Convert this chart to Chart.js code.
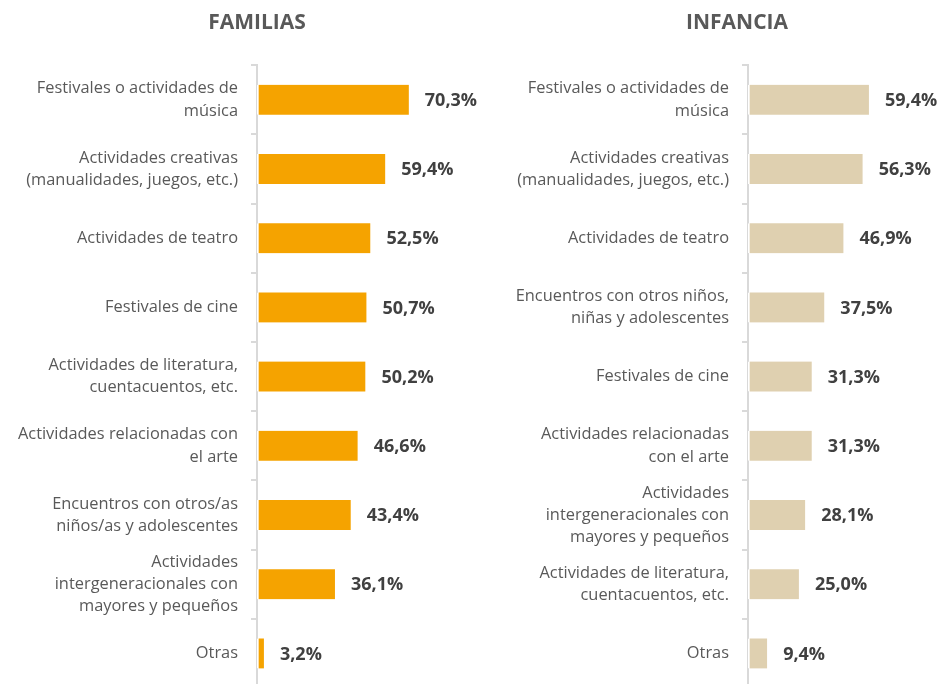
<!DOCTYPE html>
<html>
<head>
<meta charset="utf-8">
<script src="https://cdn.jsdelivr.net/npm/chart.js@4/dist/chart.umd.min.js"></script>
<style>
    html, body { margin: 0; padding: 0; overflow: hidden; background: #fff; }
    #wrap { position: relative; width: 940px; height: 684px; overflow: hidden; }
    .panel { position: absolute; top: 0; height: 688px; }
</style>
</head>
<body>
<div id="wrap">
    <div class="panel" style="left:0;width:514px"><canvas id="familias" width="514" height="688"></canvas></div>
    <div class="panel" style="left:500px;width:474px"><canvas id="infancia" width="474" height="688"></canvas></div>
</div>
<script>
// ── Data ───────────────────────────────────────────────────────────────────

const familiasLabels = [
    ['Festivales o actividades de', 'música'],
    ['Actividades creativas', '(manualidades, juegos, etc.)'],
    'Actividades de teatro',
    'Festivales de cine',
    ['Actividades de literatura,', 'cuentacuentos, etc.'],
    ['Actividades relacionadas con', 'el arte'],
    ['Encuentros con otros/as', 'niños/as y adolescentes'],
    ['Actividades', 'intergeneracionales con', 'mayores y pequeños'],
    'Otras',
];
const familiasValues = [70.3, 59.4, 52.5, 50.7, 50.2, 46.6, 43.4, 36.1, 3.2];

const infanciaLabels = [
    ['Festivales o actividades de', 'música'],
    ['Actividades creativas', '(manualidades, juegos, etc.)'],
    'Actividades de teatro',
    ['Encuentros con otros niños,', 'niñas y adolescentes'],
    'Festivales de cine',
    ['Actividades relacionadas', 'con el arte'],
    ['Actividades', 'intergeneracionales con', 'mayores y pequeños'],
    ['Actividades de literatura,', 'cuentacuentos, etc.'],
    'Otras',
];
const infanciaValues = [59.4, 56.3, 46.9, 37.5, 31.3, 31.3, 28.1, 25.0, 9.4];

// ── Value labels at bar end ────────────────────────────────────────────────

const valueLabels = {
    id: 'valueLabels',
    afterDraw(chart) {
        const { ctx } = chart;
        const meta = chart.getDatasetMeta(0);
        const data = chart.data.datasets[0].data;
        ctx.save();
        ctx.font = 'bold 18px "Open Sans"';
        ctx.fillStyle = '#404040';
        ctx.textAlign = 'left';
        ctx.textBaseline = 'middle';
        meta.data.forEach((bar, i) => {
            const txt = data[i].toFixed(1).replace('.', ',') + '%';
            ctx.fillText(txt, bar.x + 16, bar.y + 1);
        });
        ctx.restore();
    },
};

function makeChart(id, title, labels, values, color, xMax, axisWidth) {
    return new Chart(document.getElementById(id), {
        type: 'bar',
        data: {
            labels,
            datasets: [{
                data: values,
                backgroundColor: color,
                borderColor: '#ffffff',
                borderWidth: { left: 2, right: 0, top: 0, bottom: 0 },
                borderSkipped: false,
                barThickness: 30,
            }],
        },
        options: {
            indexAxis: 'y',
            responsive: false,
            animation: false,
            layout: { padding: 0 },
            plugins: {
                legend: { display: false },
                tooltip: { enabled: false },
                title: {
                    display: true,
                    text: title,
                    color: '#595959',
                    font: { family: 'Open Sans', size: 21, weight: 'bold' },
                    padding: { top: 10, bottom: 30 },
                },
            },
            scales: {
                x: { display: false, min: 0, max: xMax },
                y: {
                    z: 1,
                    afterFit: (scale) => {
                        scale.width = axisWidth;
                        scale.paddingTop = 0;
                        scale.paddingBottom = 0;
                    },
                    border: { display: true, color: '#d9d9d9', width: 2 },
                    grid: { drawOnChartArea: false, color: '#d9d9d9', lineWidth: 2, tickLength: 6, offset: true },
                    ticks: {
                        autoSkip: false,
                        color: '#595959',
                        padding: 13,
                        font: { family: 'Open Sans', size: 16.4, lineHeight: 1.35 },
                    },
                },
            },
        },
        plugins: [valueLabels],
    });
}

makeChart('familias', 'FAMILIAS', familiasLabels, familiasValues, '#f5a300', 119, 257);
makeChart('infancia', 'INFANCIA', infanciaLabels, infanciaValues, '#dfd0b0', 111, 248);
</script>
</body>
</html>
